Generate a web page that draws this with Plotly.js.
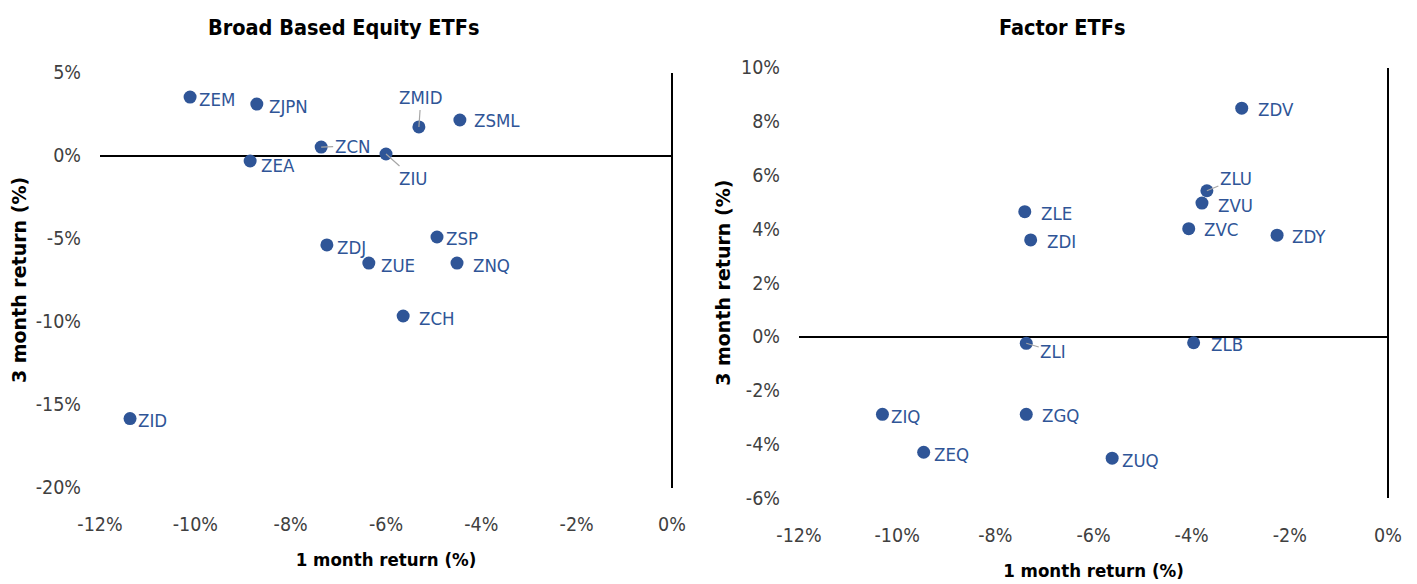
<!DOCTYPE html>
<html>
<head>
<meta charset="utf-8">
<script src="https://cdn.plot.ly/plotly-3.0.1.min.js"></script>
<style>html,body{margin:0;padding:0;background:#fff;}#chart{width:1417px;height:584px;}</style>
</head>
<body>
<div id="chart"></div>
<script>
// ---- Data ----
const broadNames = ['ZEM','ZJPN','ZMID','ZSML','ZCN','ZIU','ZEA','ZSP','ZDJ','ZUE','ZNQ','ZCH','ZID'];
const broad1m    = [-10.11,-8.71,-5.31,-4.45,-7.36,-6.00,-8.85,-4.93,-7.24,-6.36,-4.51,-5.64,-11.37];
const broad3m    = [3.52,3.10,1.72,2.14,0.51,0.09,-0.33,-4.91,-5.39,-6.48,-6.48,-9.67,-15.85];

const factorNames = ['ZDV','ZLU','ZVU','ZVC','ZDY','ZLE','ZDI','ZLI','ZLB','ZIQ','ZGQ','ZEQ','ZUQ'];
const factor1m    = [-2.98,-3.69,-3.79,-4.06,-2.26,-7.40,-7.28,-7.37,-3.96,-10.30,-7.37,-9.46,-5.62];
const factor3m    = [8.49,5.42,4.96,4.01,3.77,4.64,3.59,-0.25,-0.23,-2.89,-2.89,-4.30,-4.52];

const xTickVals   = [-12,-10,-8,-6,-4,-2,0];
const xTickText   = ['-12%','-10%','-8%','-6%','-4%','-2%','0%'];
const y1TickVals  = [5,0,-5,-10,-15,-20];
const y1TickText  = ['5%','0%','-5%','-10%','-15%','-20%'];
const y2TickVals  = [10,8,6,4,2,0,-2,-4,-6];
const y2TickText  = ['10%','8%','6%','4%','2%','0%','-2%','-4%','-6%'];

// ---- Styling / label placement (pixel offsets) ----
const BLUE = '#2F5597';
const NARROW = '"DejaVu Sans Condensed", "Liberation Sans Narrow", sans-serif';
const labelOffsets = { // [dx to text start, dy of text centre] in px
  ZEM:[9,2], ZJPN:[12,2], ZSML:[14,1], ZEA:[11,5], ZSP:[9,1], ZDJ:[10,3], ZUE:[12,2],
  ZNQ:[16,2], ZCH:[16,2], ZID:[8,2],
  ZDV:[16,1], ZVU:[16,2], ZVC:[15,1], ZDY:[15,1], ZLE:[16,2], ZDI:[16,2], ZLB:[17,2],
  ZIQ:[9,2], ZGQ:[16,1], ZEQ:[10,2], ZUQ:[10,2]
};
const leaders = { // text centre offset from point in px
  ZMID:[2,-29], ZCN:[31,-1], ZIU:[27,24], ZLU:[29,-12], ZLI:[27,8]
};

function makeAnnotations(names, xs, ys, xref, yref) {
  return names.map((n, i) => {
    const base = {x: xs[i], y: ys[i], xref: xref, yref: yref, text: n,
      font: {family: NARROW, size: 18.5, color: BLUE}};
    if (leaders[n]) {
      return Object.assign(base, {showarrow: true, ax: leaders[n][0], ay: leaders[n][1],
        arrowhead: 0, arrowwidth: 1.2, arrowcolor: '#A6A6A6', standoff: 0, startstandoff: 0});
    }
    const o = labelOffsets[n] || [10, 0];
    return Object.assign(base, {showarrow: false, xanchor: 'left', yanchor: 'middle',
      xshift: o[0] - 2, yshift: -o[1]});
  });
}

const W = 1417, H = 584;
const marker = {color: BLUE, size: 13};

const traces = [
  {type: 'scatter', mode: 'markers', x: broad1m, y: broad3m, text: broadNames,
   marker: marker, xaxis: 'x', yaxis: 'y', hoverinfo: 'text'},
  {type: 'scatter', mode: 'markers', x: factor1m, y: factor3m, text: factorNames,
   marker: marker, xaxis: 'x2', yaxis: 'y2', hoverinfo: 'text'}
];

const tickFont = {family: NARROW, size: 19.5, color: '#404040'};
const xTitleFont = {family: NARROW, size: 18.5, color: '#000'};
const yTitleFont = {family: '"DejaVu Sans", sans-serif', size: 19, color: '#000', weight: 'bold'};

function xAxis(domain, anchor) {
  return {domain: domain, anchor: anchor, range: [-12, 0], tickvals: xTickVals, ticktext: xTickText,
    showgrid: false, showline: false, ticks: '', zeroline: true, zerolinecolor: '#000', zerolinewidth: 2,
    tickfont: tickFont, ticklabelstandoff: 23, fixedrange: true,
    title: {text: '<b>1 month return (%)</b>', font: xTitleFont, standoff: 18}};
}
function yAxis(domain, anchor, range, vals, txt, standoff) {
  return {domain: domain, anchor: anchor, range: range, tickvals: vals, ticktext: txt,
    showgrid: false, showline: false, ticks: '', zeroline: true, zerolinecolor: '#000', zerolinewidth: 2,
    tickfont: tickFont, ticklabelstandoff: 18, fixedrange: true,
    title: {text: '3 month return (%)', font: yTitleFont, standoff: standoff}};
}

const layout = {
  width: W, height: H,
  margin: {l: 0, r: 0, t: 0, b: 0},
  paper_bgcolor: '#fff', plot_bgcolor: '#fff',
  showlegend: false,
  xaxis:  xAxis([100 / W, 672 / W], 'y'),
  yaxis:  yAxis([1 - 487.5 / H, 1 - 72.5 / H], 'x', [-20, 5], y1TickVals, y1TickText, 4),
  xaxis2: xAxis([799 / W, 1388 / W], 'y2'),
  yaxis2: yAxis([1 - 498 / H, 1 - 67.5 / H], 'x2', [-6, 10], y2TickVals, y2TickText, 5),
  annotations: [
    {text: '<b>Broad Based Equity ETFs</b>', xref: 'paper', yref: 'paper', x: 343 / W, y: 1 - 27 / H,
     xanchor: 'center', yanchor: 'middle', showarrow: false, font: {family: NARROW, size: 21.5, color: '#000'}},
    {text: '<b>Factor ETFs</b>', xref: 'paper', yref: 'paper', x: 1062 / W, y: 1 - 27 / H,
     xanchor: 'center', yanchor: 'middle', showarrow: false, font: {family: NARROW, size: 21.5, color: '#000'}}
  ].concat(makeAnnotations(broadNames, broad1m, broad3m, 'x', 'y'))
   .concat(makeAnnotations(factorNames, factor1m, factor3m, 'x2', 'y2'))
};

Plotly.newPlot('chart', traces, layout, {displayModeBar: false, staticPlot: true});
</script>
</body>
</html>
